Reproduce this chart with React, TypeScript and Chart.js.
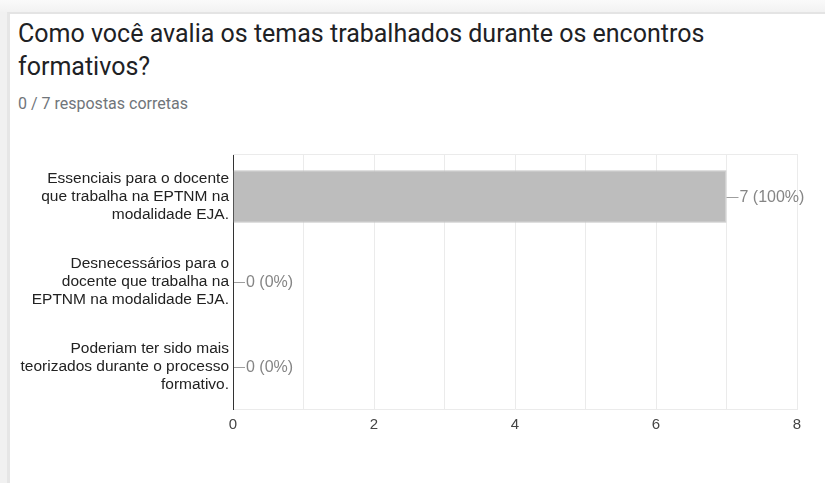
import React, { useEffect, useRef } from "react";
import { Chart, registerables } from "chart.js";

Chart.register(...registerables);

const TITLE = "Como você avalia os temas trabalhados durante os encontros formativos?";
const SUBTITLE = "0 / 7 respostas corretas";
const categories: string[][] = [
  ["Essenciais para o docente", "que trabalha na EPTNM na", "modalidade EJA."],
  ["Desnecessários para o", "docente que trabalha na", "EPTNM na modalidade EJA."],
  ["Poderiam ter sido mais", "teorizados durante o processo", "formativo."],
];
const counts = [7, 0, 0];
const percents = ["100%", "0%", "0%"];
const X_MIN = 0;
const X_MAX = 8;

const FONT = "'Liberation Sans', Arial, sans-serif";

const valueLabelPlugin = {
  id: "valueLabels",
  afterDatasetsDraw(chart: any) {
    const ctx = chart.ctx;
    const meta = chart.getDatasetMeta(0);
    ctx.save();
    ctx.font = `16px ${FONT}`;
    ctx.textBaseline = "middle";
    ctx.textAlign = "left";
    meta.data.forEach((bar: any, i: number) => {
      const x = bar.x;
      const y = Math.round(bar.y);
      ctx.strokeStyle = "#9e9e9e";
      ctx.lineWidth = 1;
      ctx.beginPath();
      ctx.moveTo(x + (counts[i] === 0 ? 1 : 0), y + 0.5);
      ctx.lineTo(x + 12, y + 0.5);
      ctx.stroke();
      ctx.fillStyle = "#858585";
      ctx.fillText(`${counts[i]} (${percents[i]})`, x + 13, y + 1);
    });
    ctx.restore();
  },
};

const frameTopPlugin = {
  id: "frameTop",
  beforeDatasetsDraw(chart: any) {
    const { ctx, chartArea } = chart;
    ctx.save();
    ctx.strokeStyle = "#ebebeb";
    ctx.lineWidth = 1;
    ctx.beginPath();
    ctx.moveTo(chartArea.left, Math.round(chartArea.top) + 0.5);
    ctx.lineTo(chartArea.right, Math.round(chartArea.top) + 0.5);
    ctx.stroke();
    ctx.restore();
  },
};

function BarChart() {
  const ref = useRef<HTMLCanvasElement | null>(null);
  useEffect(() => {
    if (!ref.current) return;
    const chart = new Chart(ref.current, {
      type: "bar",
      data: {
        labels: categories,
        datasets: [
          {
            data: counts,
            backgroundColor: "#bdbdbd",
            borderColor: "#c6c6c6",
            borderWidth: 1,
            barPercentage: 0.62,
            categoryPercentage: 1,
          },
        ],
      },
      options: {
        indexAxis: "y",
        animation: false,
        responsive: false,
        maintainAspectRatio: false,
        layout: { padding: { top: 14, right: 28, left: 0, bottom: 0 } },
        plugins: { legend: { display: false }, tooltip: { enabled: false } },
        scales: {
          x: {
            min: X_MIN,
            max: X_MAX,
            ticks: {
              stepSize: 1,
              padding: 7,
              color: "#444",
              font: { family: FONT, size: 15 },
              callback: (v: any) => (Number(v) % 2 === 0 ? String(v) : ""),
              maxRotation: 0,
              autoSkip: false,
            },
            grid: { color: "#ebebeb", drawTicks: false },
            border: { color: "#ebebeb" },
            afterFit: (s: any) => {
              s.height = 31;
              s.paddingLeft = 0;
              s.paddingRight = 0;
            },
          },
          y: {
            ticks: {
              padding: 4,
              color: "#222",
              font: { family: FONT, size: 15.5, lineHeight: 18 / 15.5 },
            },
            grid: { display: false, drawTicks: false },
            border: { color: "#333", width: 1 },
            afterFit: (s: any) => {
              s.width = 233;
              s.paddingTop = 0;
              s.paddingBottom = 0;
            },
          },
        },
      },
      plugins: [frameTopPlugin, valueLabelPlugin],
    } as any);
    return () => chart.destroy();
  }, []);
  return <canvas ref={ref} width={825} height={300} style={{ display: "block", width: 825, height: 300 }} />;
}

export default function App() {
  return (
    <div
      style={{
        position: "fixed",
        left: 0,
        top: 0,
        width: 825,
        height: 483,
        background: "#f1f1f1",
        overflow: "hidden",
      }}
    >
      <div style={{ position: "absolute", left: 0, top: 0, width: 825, height: 12, background: "linear-gradient(#fafafa, #f2f2f2)" }} />
      <div
        style={{
          position: "absolute",
          left: 7,
          top: 12,
          width: 818,
          height: 471,
          background: "#fff",
          borderLeft: "3px solid #e6e6e6",
          borderTop: "2px solid #e4e4e4",
          boxSizing: "border-box",
        }}
      />
      <div
        style={{
          position: "absolute",
          left: 18,
          top: 17,
          width: 740,
          fontFamily: "Roboto, sans-serif",
          fontSize: 25,
          lineHeight: "33px",
          color: "#202124",
        }}
      >
        {TITLE}
      </div>
      <div
        style={{
          position: "absolute",
          left: 18,
          top: 95,
          fontFamily: "Roboto, sans-serif",
          fontSize: 16,
          lineHeight: "18px",
          color: "#70757a",
        }}
      >
        {SUBTITLE}
      </div>
      <div style={{ position: "absolute", left: 0, top: 140 }}>
        <BarChart />
      </div>
    </div>
  );
}
